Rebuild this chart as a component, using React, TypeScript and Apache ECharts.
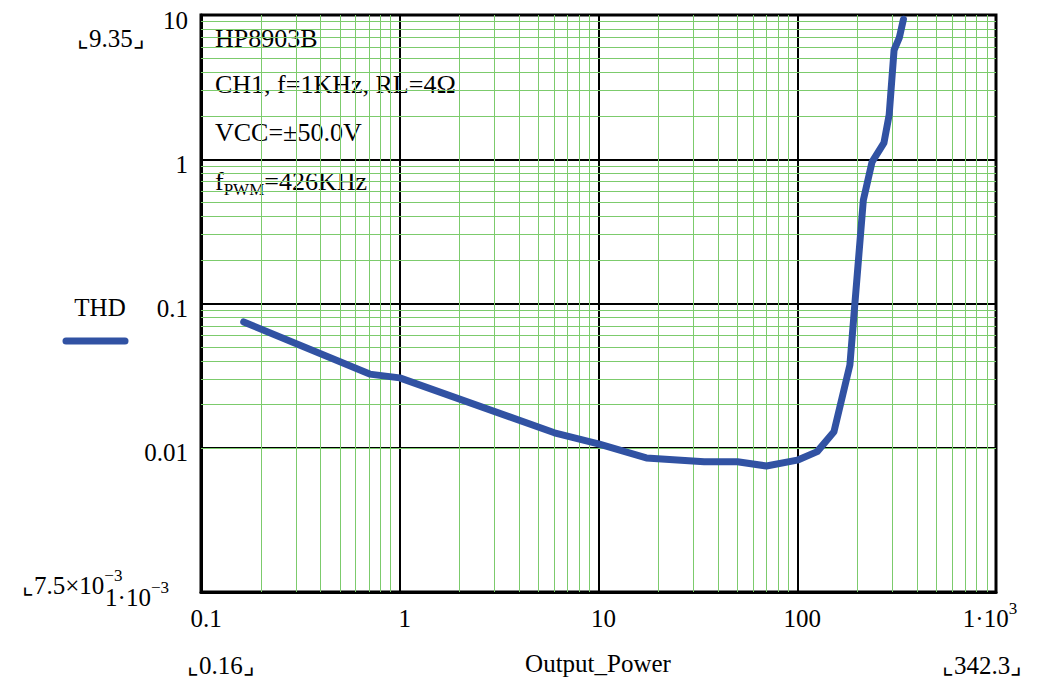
import React, { useEffect, useRef } from "react";
import * as echarts from "echarts";

// Output power (W) vs THD (%)
const POWER = [0.164, 0.706, 1.0, 6.0, 10.1, 17.4, 34, 50, 70, 100, 126, 153, 184, 215, 238, 273, 290, 307, 326, 342.3];
const THD = [0.0745, 0.0324, 0.0305, 0.0127, 0.0106, 0.0085, 0.008, 0.008, 0.00747, 0.0082, 0.0094, 0.0129, 0.0375, 0.52, 0.96, 1.3, 2.03, 5.72, 6.93, 9.35];

const X_TICKS = [0.1, 1, 10, 100, 1000];
const X_TICK_LABELS = ["{b|0.1}", "{b|1}", "{b|10}", "{b|100}", "{b|1·10}{s|3}{h|}"];
const Y_TICKS = [0.001, 0.01, 0.1, 1, 10];
const Y_TICK_LABELS = ["{b|1·10}{s|−3}{g|}", "{b|0.01}", "{b|0.1}", "{b|1}", "{b|10}"];

const X_DECADES = [0.1, 1, 10, 100];
const Y_DECADES = [0.001, 0.01, 0.1, 1];
const MINOR_STEPS = [2, 3, 4, 5, 6, 7, 8, 9];

const FONT = "'Liberation Serif', 'Times New Roman', serif";
const BLUE = "#3152a3";
const GREEN = "#7ccb6c";

function labelFor(ticks: number[], labels: string[], v: number) {
  for (let i = 0; i < ticks.length; i++) {
    if (Math.abs(Math.log10(v) - Math.log10(ticks[i])) < 1e-6) return labels[i];
  }
  return "";
}

export default function App() {
  const ref = useRef<HTMLDivElement>(null);
  useEffect(() => {
    document.body.style.margin = "0";
    const chart = echarts.init(ref.current!, null, { renderer: "svg" });
    const xMinor: number[] = [];
    X_DECADES.forEach((d) => MINOR_STEPS.forEach((k) => xMinor.push(+(d * k).toPrecision(6))));
    const yMinor: number[] = [];
    Y_DECADES.forEach((d) => MINOR_STEPS.forEach((k) => yMinor.push(+(d * k).toPrecision(6))));

    const baseRich = {
      b: { fontFamily: FONT, fontSize: 25, color: "#000", lineHeight: 36 },
      s: { fontFamily: FONT, fontSize: 17, color: "#000", lineHeight: 20, verticalAlign: "top" },
      g: { width: 19 },
      h: { width: 22 },
    };

    chart.setOption({
      animation: false,
      grid: {
        left: 201,
        top: 15,
        right: 43,
        bottom: 86,
        show: true,
        borderColor: "#000",
        borderWidth: 3,
        backgroundColor: "transparent",
      },
      xAxis: {
        type: "log",
        logBase: 10,
        min: 0.1,
        max: 1000,
        axisLine: { show: true, lineStyle: { color: "#000", width: 3 } },
        axisTick: { show: false },
        minorTick: { show: false },
        splitLine: { show: true, lineStyle: { color: "#000", width: 2 } },
        axisLabel: {
          margin: 8,
          padding: [0, 0, 0, 10],
          formatter: (v: number) => labelFor(X_TICKS, X_TICK_LABELS, v),
          rich: baseRich,
        },
      },
      yAxis: {
        type: "log",
        logBase: 10,
        min: 0.001,
        max: 10,
        axisLine: { show: true, lineStyle: { color: "#000", width: 3 } },
        axisTick: { show: false },
        minorTick: { show: false },
        splitLine: { show: true, lineStyle: { color: "#000", width: 2 } },
        axisLabel: {
          margin: 13,
          padding: [10, 0, 0, 0],
          formatter: (v: number) => labelFor(Y_TICKS, Y_TICK_LABELS, v),
          rich: baseRich,
        },
      },
      series: [
        {
          type: "line",
          z: -1,
          data: [[1, 0.01]],
          showSymbol: false,
          lineStyle: { opacity: 0 },
          silent: true,
          markLine: {
            silent: true,
            symbol: "none",
            animation: false,
            label: { show: false },
            lineStyle: { color: GREEN, width: 1, type: "solid" },
            data: [...xMinor.map((v) => ({ xAxis: v })), ...yMinor.map((v) => ({ yAxis: v }))],
          },
        },
        {
          type: "line",
          name: "THD",
          data: POWER.map((p, i) => [p, THD[i]]),
          showSymbol: false,
          smooth: false,
          lineStyle: { color: BLUE, width: 7, cap: "round", join: "round" },
          z: 5,
        },
      ],
      graphic: [
        { type: "text", x: 215, y: 38, style: { text: "HP8903B", font: `26px ${FONT}`, fill: "#000", verticalAlign: "middle" } },
        { type: "text", x: 215, y: 84, style: { text: "CH1, f=1KHz, RL=4Ω", font: `26px ${FONT}`, fill: "#000", verticalAlign: "middle" } },
        { type: "text", x: 215, y: 132, style: { text: "VCC=±50.0V", font: `26px ${FONT}`, fill: "#000", verticalAlign: "middle" } },
        {
          type: "text",
          x: 215,
          y: 168,
          style: {
            text: "{b|f}{sub|PWM}{b|=426KHz}",
            fill: "#000",
            rich: {
              b: { fontFamily: FONT, fontSize: 26, lineHeight: 24, verticalAlign: "top" },
              sub: { fontFamily: FONT, fontSize: 17, lineHeight: 17, verticalAlign: "bottom", padding: [0, 0, -6, 0] },
            },
          },
        },
        { type: "text", x: 77, y: 38, style: { text: "⌞9.35⌟", font: `25px ${FONT}`, fill: "#000", verticalAlign: "middle" } },
        {
          type: "text",
          x: 22,
          y: 567,
          style: {
            text: "{b|⌞7.5×10}{s|−3}",
            fill: "#000",
            rich: {
              b: { fontFamily: FONT, fontSize: 25, lineHeight: 36 },
              s: { fontFamily: FONT, fontSize: 17, lineHeight: 20, verticalAlign: "top" },
            },
          },
        },
        { type: "text", x: 187, y: 665, style: { text: "⌞0.16⌟", font: `25px ${FONT}`, fill: "#000", verticalAlign: "middle" } },
        { type: "text", x: 942, y: 665, style: { text: "⌞342.3⌟", font: `25px ${FONT}`, fill: "#000", verticalAlign: "middle" } },
        { type: "text", x: 598, y: 663, style: { text: "Output_Power", font: `25px ${FONT}`, fill: "#000", align: "center", verticalAlign: "middle" } },
        { type: "text", x: 100, y: 307, style: { text: "THD", font: `25px ${FONT}`, fill: "#000", align: "center", verticalAlign: "middle" } },
        { type: "line", shape: { x1: 66, y1: 341, x2: 125, y2: 341 }, style: { stroke: BLUE, lineWidth: 7, lineCap: "round" } },
      ],
    });
    return () => chart.dispose();
  }, []);
  return <div ref={ref} style={{ position: "absolute", left: 0, top: 0, width: 1039, height: 678 }} />;
}
